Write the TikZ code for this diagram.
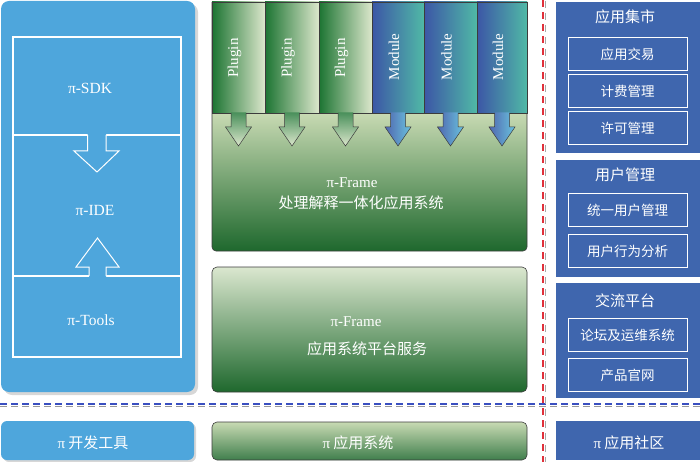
\documentclass[tikz,border=0pt]{standalone}
\usepackage{fontspec}
\setmainfont{Liberation Serif}
\newfontfamily\zhfont{Noto Sans CJK SC}
\definecolor{lblue}{HTML}{4EA6DC}
\definecolor{rblue}{HTML}{3F66AE}
\definecolor{pgdark}{HTML}{1C7432}
\definecolor{pglight}{HTML}{DCE7CC}
\definecolor{mdblue}{HTML}{3C56A6}
\definecolor{mdcyan}{HTML}{45B3D6}
\definecolor{mdteal}{HTML}{50B9A6}
\definecolor{frlight}{HTML}{C8DAB3}
\definecolor{frmid}{HTML}{78A960}
\definecolor{frdark}{HTML}{1E682D}
\definecolor{frlight2}{HTML}{DBE7CF}
\definecolor{edge}{HTML}{3C3C3C}
\definecolor{dashblue}{HTML}{3A4FC0}
\definecolor{dashred}{HTML}{E0303A}
\begin{document}
\begin{tikzpicture}[x=1pt,y=-1pt,
  wtxt/.style={text=white,inner sep=0pt,font=\fontsize{15.5}{18}\selectfont},
  ztxt/.style={text=white,inner sep=0pt,font=\fontsize{15}{18}\selectfont\zhfont},
  ritem/.style={draw=white,line width=1pt,minimum width=119pt,minimum height=33pt,inner sep=0pt,text=white,font=\fontsize{13.5}{16}\selectfont\zhfont},
  coltxt/.style={text=white,inner sep=0pt,rotate=90,font=\fontsize{15}{18}\selectfont},
  shadowbox/.style={fill=black!45,opacity=0.35},
  frameedge/.style={draw=edge,line width=0.6pt},
  plugcol/.style={left color=pgdark,right color=pglight,draw=edge,line width=0.5pt},
  modcol/.style={left color=mdblue,middle color=mdcyan,right color=mdteal,draw=edge,line width=0.5pt},
  plugarrow/.style={top color=pgdark!80!white,bottom color=pglight},
  modarrow/.style={left color=mdblue!90!white,right color=mdcyan!80!white},
  wline/.style={draw=white,line width=1.2pt}
]
\useasboundingbox (0,0) rectangle (700,462);

% ---------- left column ----------
\fill[shadowbox,rounded corners=8pt] (4,4) rectangle (198,395);
\fill[lblue,rounded corners=8pt] (1,1) rectangle (195,392);
\draw[wline] (13,37) rectangle (181,357);
\draw[wline] (13,135) -- (181,135);
\draw[wline] (13,276) -- (181,276);
% down arrow
\fill[lblue] (87.5,134) -- (87.5,151) -- (74,151) -- (97,172) -- (119,151) -- (106,151) -- (106,134) -- cycle;
\draw[wline,line width=1pt,line join=miter] (87.5,135) -- (87.5,151) -- (74,151) -- (97,172) -- (119,151) -- (106,151) -- (106,135);
% up arrow
\fill[lblue] (89,277) -- (89,267) -- (76,267) -- (97.5,238) -- (119,267) -- (106,267) -- (106,277) -- cycle;
\draw[wline,line width=1pt,line join=miter] (89,276) -- (89,267) -- (76,267) -- (97.5,238) -- (119,267) -- (106,267) -- (106,276);
\node[wtxt] (sdk) at (90,88) {π-SDK};
\node[wtxt] (ide) at (95,211) {π-IDE};
\node[wtxt] (tools) at (91,320) {π-Tools};

\fill[shadowbox,rounded corners=6pt] (3,423) rectangle (196,462);
\fill[lblue,rounded corners=6pt] (1,421) rectangle (194,460);
\node[ztxt] (devtool) at (93,443) {{\rmfamily π} 开发工具};

% ---------- middle column ----------
% frame 1 (below plugins)
\path[top color=frlight,middle color=frmid,bottom color=frdark] (212,113) -- (527,113) [rounded corners=4pt] -- (527,251) -- (212,251) [sharp corners] -- (212,113) -- cycle;
\draw[frameedge] (212,2) -- (212,113) [rounded corners=4pt] -- (212,251) -- (527,251) [sharp corners] -- (527,113) -- (527,2);
\draw[edge,line width=0.5pt] (212,113) -- (527,113);
% plugin / module columns
\foreach \a/\b in {212/265,265/319,319/372}{
  \path[plugcol] (\a,2) rectangle (\b,113);
}
\foreach \a/\b in {372/424,424/477,477/527}{
  \path[modcol] (\a,2) rectangle (\b,113);
}
\foreach \c/\n in {238.5/p1,292/p2,345.5/p3}{
  \path[plugarrow] (\c-7.5,112.5) -- (\c-7.5,127) -- (\c-13,127) -- (\c,146) -- (\c+13,127) -- (\c+7.5,127) -- (\c+7.5,112.5) -- cycle;
  \draw[edge,line width=0.5pt,line join=miter] (\c-7.5,113) -- (\c-7.5,127) -- (\c-13,127) -- (\c,146) -- (\c+13,127) -- (\c+7.5,127) -- (\c+7.5,113);
  \node[coltxt] (\n) at (\c-4,58) {Plugin};
}
\foreach \c/\n in {398/m1,450.5/m2,502/m3}{
  \path[modarrow] (\c-7.5,112.5) -- (\c-7.5,127) -- (\c-13,127) -- (\c,146) -- (\c+13,127) -- (\c+7.5,127) -- (\c+7.5,112.5) -- cycle;
  \draw[edge,line width=0.5pt,line join=miter] (\c-7.5,113) -- (\c-7.5,127) -- (\c-13,127) -- (\c,146) -- (\c+13,127) -- (\c+7.5,127) -- (\c+7.5,113);
  \node[coltxt] (\n) at (\c-4,57) {Module};
}
\draw[edge,line width=0.6pt] (212,2) -- (527,2);
\node[text=white,inner sep=0pt,font=\fontsize{15}{18}\selectfont] (f1a) at (352,183) {π-Frame};
\node[ztxt] (f1b) at (361,203) {处理解释一体化应用系统};

% frame 2
\path[frameedge,rounded corners=5pt,top color=frlight2,middle color=frmid,bottom color=frdark] (212,267) rectangle (527,392);
\node[text=white,inner sep=0pt,font=\fontsize{15}{18}\selectfont] (f2a) at (356,322) {π-Frame};
\node[ztxt] (f2b) at (367,349) {应用系统平台服务};

% frame 3
\path[frameedge,rounded corners=5pt,top color=frlight,bottom color=frdark!85!white] (212,422) rectangle (527,460);
\node[ztxt] (appsys) at (358,443) {{\rmfamily π} 应用系统};

% ---------- right column ----------
\fill[rblue] (556,2) rectangle (700,153);
\node[ztxt] (market) at (625,17) {应用集市};
\node[ritem] (trade) at (627.5,54) {应用交易};
\node[ritem] (billing) at (627.5,91.5) {计费管理};
\node[ritem] (license) at (627.5,128.5) {许可管理};

\fill[rblue] (556,160) rectangle (700,277);
\node[ztxt] (usermgmt) at (625,175) {用户管理};
\node[ritem] (unified) at (627.5,210) {统一用户管理};
\node[ritem] (behav) at (627.5,251) {用户行为分析};

\fill[rblue] (556,283) rectangle (700,398);
\node[ztxt] (comm) at (625,301) {交流平台};
\node[ritem] (forum) at (627.5,335) {论坛及运维系统};
\node[ritem] (site) at (627.5,375) {产品官网};

\fill[rblue] (556,421) rectangle (700,460);
\node[ztxt] (community) at (629,443) {{\rmfamily π} 应用社区};

% ---------- dashed separators ----------
\coordinate (hl) at (0,404);
\coordinate (hr) at (700,404);
\coordinate (vt) at (543,0);
\coordinate (vb) at (543,462);
\draw[black!40,line width=1pt,dash pattern=on 7pt off 4pt] ([shift={(0,2)}]hl) -- ([shift={(0,2)}]hr);
\draw[dashblue,line width=1.2pt,dash pattern=on 7pt off 4pt] (hl) -- (hr);
\draw[black!35,line width=1pt,dash pattern=on 7pt off 5pt] ([shift={(2.5,1)}]vt) -- ([shift={(2.5,1)}]vb);
\draw[dashred,line width=1.2pt,dash pattern=on 7pt off 5pt] (vt) -- (vb);
\end{tikzpicture}
\end{document}
